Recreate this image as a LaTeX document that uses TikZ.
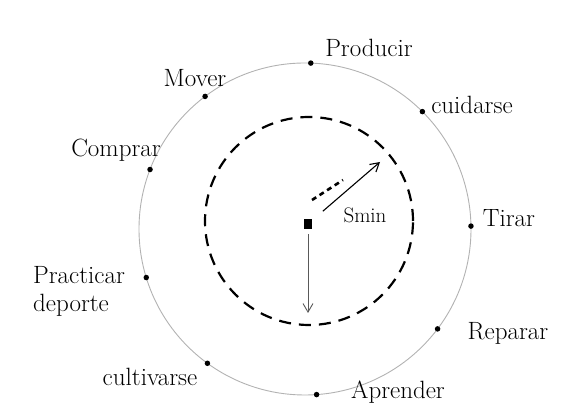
\documentclass[tikz,border=0pt]{standalone}
\usepackage{fontspec}
\usepackage{tikz}
\usetikzlibrary{arrows.meta,positioning,calc}
\tikzset{
  orbitline/.style={draw=black!30,line width=0.9pt},
  limitline/.style={draw=black,line width=2.2pt,dash pattern=on 12pt off 8pt},
  actiondot/.style={circle,fill=black,inner sep=0pt,minimum size=5.5pt},
  actionlabel/.style={font=\fontsize{25}{28}\selectfont,inner sep=1pt},
  radiusarrow/.style={-{Straight Barb[length=3mm,width=3.5mm]},line width=1.1pt},
  sourcebox/.style={fill=black,inner sep=0pt,minimum width=8pt,minimum height=10pt}
}
\begin{document}
\begin{tikzpicture}[x=1pt,y=1pt]
  \useasboundingbox (0,0) rectangle (563,414);
  \coordinate (orbit) at (305,185);
  \coordinate (limit) at (309,193);
  \draw[orbitline] (orbit) circle (166pt);
  \draw[limitline] (limit) circle (104pt);
  % points on the outer circle
  \foreach \name/\ang in {producir/88,cuidarse/45,tirar/1,reparar/-37,aprender/-86,
      cultivarse/-126,practicar/-163,comprar/159,mover/127}
    \node[actiondot] (\name) at ($(orbit)+(\ang:166)$) {};
  \node[actionlabel] (producirtext) at (369,366) {Producir};
  \node[actionlabel] (movertext) at (195,336) {Mover};
  \node[actionlabel] (cuidarsetext) at (472,309) {cuidarse};
  \node[actionlabel] (comprartext) at (116,264) {Comprar};
  \node[actionlabel] (tirartext) at (509,196) {Tirar};
  \node[actionlabel] (reparartext) at (508,81) {Reparar};
  \node[actionlabel] (aprendertext) at (398,22) {Aprender};
  \node[actionlabel] (cultivarsetext) at (150,37) {cultivarse};
  \node[actionlabel,align=left,anchor=west] (practicartext) at (32,123) {Practicar\\deporte};
  % centre and radius
  \node[sourcebox] (source) at (308,190) {};
  \coordinate (rimtip) at (380,252);
  \coordinate (bottomtip) at (308,101);
  \draw[radiusarrow,shorten <=14pt] (source) -- (rimtip);
  \draw[radiusarrow,draw=black!65,line width=0.9pt,shorten <=5pt] (source) -- (bottomtip);
  \draw[line width=2.6pt,dash pattern=on 5pt off 4pt] (312,214) -- (343,234);
  \node[actionlabel,font=\fontsize{21}{24}\selectfont] (smin) at (365,199) {Smin};
\end{tikzpicture}
\end{document}
